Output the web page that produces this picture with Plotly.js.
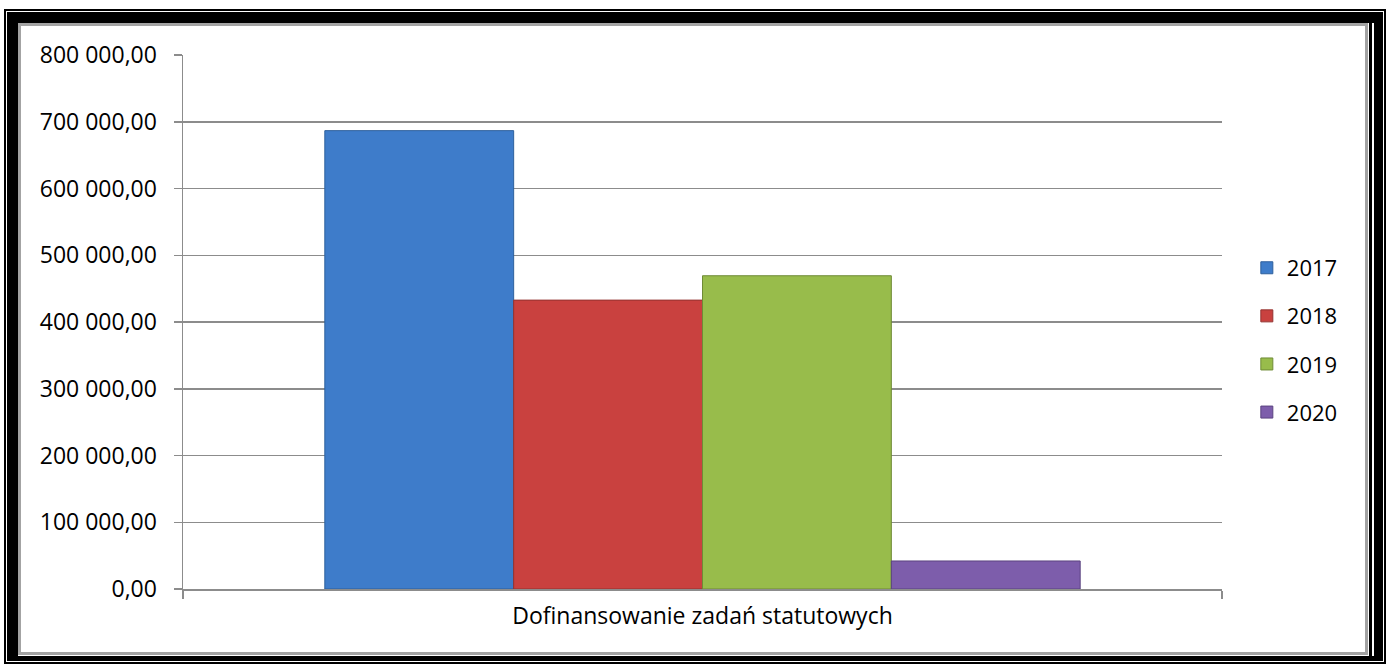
<!DOCTYPE html>
<html>
<head>
<meta charset="utf-8">
<script src="https://cdn.plot.ly/plotly-3.0.1.min.js"></script>
<style>
  html, body { margin: 0; padding: 0; background: #fff; }
  #chart { position: absolute; left: 0; top: 0; width: 1390px; height: 664px; }
  .f { position: absolute; box-sizing: border-box; pointer-events: none; }
</style>
</head>
<body>
<div id="chart"></div>
<div class="f" style="left:4px;top:9px;width:1382px;height:655px;border:2px solid #000;"></div>
<div class="f" style="left:7px;top:12px;width:1376px;height:649px;border-style:solid;border-color:#000;border-width:11px 9px 5px 11px;"></div>
<div class="f" style="left:18px;top:23px;width:1354px;height:633px;border-right:3px solid #000;"></div>
<div class="f" style="left:18px;top:23px;width:1350px;height:632px;border:3px solid #a3a3a3;"></div>
<script>
const categories = ["Dofinansowanie zadań statutowych"];
const years = ["2017", "2018", "2019", "2020"];
const values2017 = [686700];
const values2018 = [432800];
const values2019 = [469300];
const values2020 = [42000];
const seriesValues = [values2017, values2018, values2019, values2020];
const fillColors = ["#3e7cca", "#c9413f", "#98bc4b", "#7d5dab"];
const lineColors = ["#2d5f9c", "#943230", "#6f8b36", "#5b4380"];
const yTicks = [0, 100000, 200000, 300000, 400000, 500000, 600000, 700000, 800000];

const FONT = "'Open Sans', sans-serif";

const traces = years.map((y, i) => ({
  type: "bar",
  name: y,
  x: categories,
  y: seriesValues[i],
  legendgroup: "g" + y,
  marker: { color: fillColors[i], line: { color: lineColors[i], width: 1 } },
  hoverinfo: "name+y"
}));

const layout = {
  width: 1390,
  height: 664,
  margin: { l: 183, r: 168, t: 54.5, b: 75.3, pad: 0 },
  paper_bgcolor: "#ffffff",
  plot_bgcolor: "#ffffff",
  separators: ", ",
  font: { family: FONT, size: 22, color: "#000000" },
  barmode: "group",
  bargap: 0.273,
  bargroupgap: 0,
  showlegend: true,
  legend: {
    xref: "container", yref: "container",
    x: 0.897, y: 0.488, xanchor: "left", yanchor: "middle",
    font: { family: FONT, size: 22, color: "#000" },
    tracegroupgap: 16.5,
    traceorder: "grouped",
    bgcolor: "rgba(0,0,0,0)"
  },
  xaxis: {
    type: "category",
    showgrid: false,
    showline: true,
    linecolor: "#8c8c8c",
    linewidth: 1.5,
    ticks: "outside",
    tickson: "boundaries",
    ticklen: 8,
    tickwidth: 1.5,
    tickcolor: "#8c8c8c",
    ticklabelstandoff: 6,
    tickfont: { family: FONT, size: 23, color: "#000" },
    zeroline: false
  },
  yaxis: {
    range: [0, 800000],
    tickvals: yTicks,
    tickformat: ",.2f",
    showgrid: true,
    gridcolor: "#8c8c8c",
    gridwidth: 1.5,
    showline: true,
    linecolor: "#8c8c8c",
    linewidth: 1.5,
    ticks: "outside",
    ticklen: 8,
    tickwidth: 1.5,
    tickcolor: "#8c8c8c",
    ticklabelstandoff: 12,
    tickfont: { family: FONT, size: 23, color: "#000" },
    zeroline: false
  }
};

Plotly.newPlot("chart", traces, layout, { displayModeBar: false, staticPlot: true });
</script>
</body>
</html>
